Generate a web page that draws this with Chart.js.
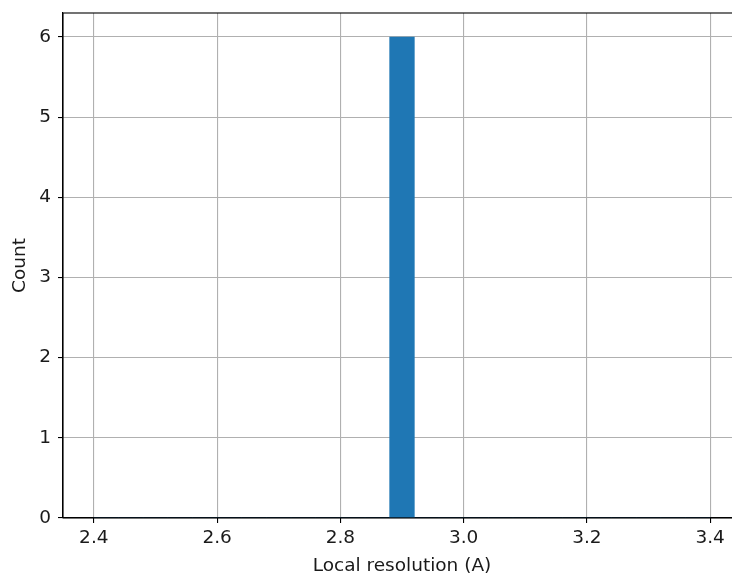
<!DOCTYPE html>
<html>
<head>
<meta charset="utf-8">
<script src="https://cdn.jsdelivr.net/npm/chart.js@4/dist/chart.umd.min.js"></script>
<style>
html,body{margin:0;padding:0;background:#fff;overflow:hidden;}
#wrap{width:732px;height:579px;overflow:hidden;position:relative;}
#box{width:745px;height:579px;position:absolute;left:0;top:0;}
</style>
</head>
<body>
<div id="wrap"><div id="box"><canvas id="c"></canvas></div></div>
<script>
// Histogram bins (left edges), bin width and counts
const binStarts = [2.40,2.44,2.48,2.52,2.56,2.60,2.64,2.68,2.72,2.76,2.80,2.84,2.88,2.92,2.96,3.00,3.04,3.08,3.12,3.16,3.20,3.24,3.28,3.32,3.36];
const binWidth = 0.04;
const counts =    [0,0,0,0,0,0,0,0,0,0,0,0,6,0,0,0,0,0,0,0,0,0,0,0,0];
const xTicks = [2.4,2.6,2.8,3.0,3.2,3.4];
const yTicks = [0,1,2,3,4,5,6];
const xLabel = 'Local resolution (A)';
const yLabel = 'Count';

const data = binStarts.map((s,i)=>({x: s + binWidth/2, y: counts[i]}));

const frame = {
  id:'frame',
  afterDraw(chart){
    const {ctx, chartArea:a} = chart;
    ctx.save();
    ctx.strokeStyle='#000';
    ctx.lineWidth=1.1;
    ctx.strokeRect(a.left, a.top, a.right-a.left, a.bottom-a.top);
    ctx.restore();
  }
};

const font = {family:'"DejaVu Sans", sans-serif', size:18.5};
const txt = '#1a1a1a';

new Chart(document.getElementById('c'), {
  type:'bar',
  data:{datasets:[{data, backgroundColor:'#1f77b4', borderWidth:0, barPercentage:1, categoryPercentage:1, grouped:false}]},
  options:{
    responsive:true, maintainAspectRatio:false, animation:false,
    layout:{padding:{top:13,right:4,left:0,bottom:0}},
    plugins:{legend:{display:false}, tooltip:{enabled:false}},
    scales:{
      x:{
        type:'linear', min:2.35, max:3.45, offset:false,
        afterBuildTicks(s){ s.ticks = xTicks.map(v=>({value:v})); },
        afterFit(s){ s.height = 61; s.paddingLeft = 0; s.paddingRight = 0; },
        ticks:{color:txt, font, padding:4, callback:v=>v.toFixed(1), maxRotation:0, autoSkip:false},
        grid:{color:'#b0b0b0', lineWidth:1.1, tickColor:'#000', tickLength:5, drawTicks:true, offset:false},
        border:{color:'#000', width:1.1},
        title:{display:true, text:xLabel, color:txt, font, padding:{top:0,bottom:2}}
      },
      y:{
        min:0, max:6.3,
        afterBuildTicks(s){ s.ticks = yTicks.map(v=>({value:v})); },
        afterFit(s){ s.width = 63; s.paddingTop = 0; s.paddingBottom = 0; },
        ticks:{color:txt, font, padding:7, callback:v=>String(v)},
        grid:{color:'#b0b0b0', lineWidth:1.1, tickColor:'#000', tickLength:5, drawTicks:true},
        border:{color:'#000', width:1.1},
        title:{display:true, text:yLabel, color:txt, font, padding:{top:9,bottom:0}}
      }
    }
  },
  plugins:[frame]
});
</script>
</body>
</html>
